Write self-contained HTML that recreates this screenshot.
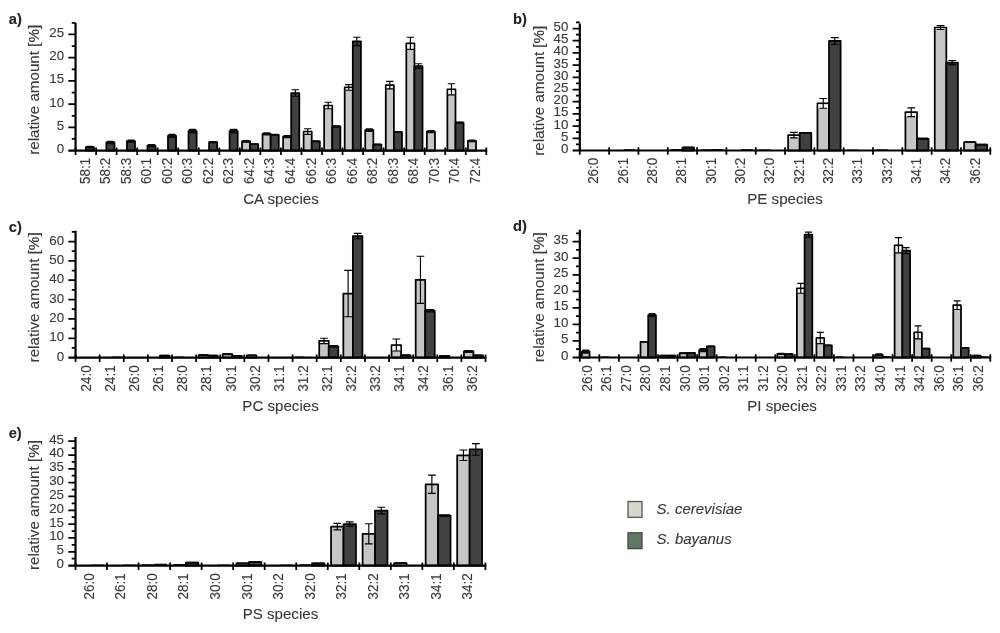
<!DOCTYPE html>
<html lang="en">
<head>
<meta charset="utf-8">
<title>Lipid species figure</title>
<style>
html,body{margin:0;padding:0;background:#fff;}
body{width:1000px;height:633px;overflow:hidden;}
svg{display:block;font-family:"Liberation Sans", sans-serif;filter:blur(0.4px);}
text{stroke:#3a3a3a;stroke-width:0.12px;}
</style>
</head>
<body>
<svg width="1000" height="633" viewBox="0 0 1000 633">
<rect width="1000" height="633" fill="#fff"/>
<g id="chart-a">
<rect x="85.82" y="147.12" width="8.11" height="3.48" fill="#414141" stroke="#000" stroke-width="1.75" stroke-linejoin="round"/>
<rect x="86.12" y="145.69" width="7.51" height="2.86" rx="0.8" fill="#0a0a0a"/>
<rect x="106.36" y="142.47" width="8.11" height="8.13" fill="#414141" stroke="#000" stroke-width="1.75" stroke-linejoin="round"/>
<rect x="106.66" y="140.81" width="7.51" height="3.32" rx="0.8" fill="#0a0a0a"/>
<rect x="126.89" y="141.08" width="8.11" height="9.52" fill="#414141" stroke="#000" stroke-width="1.75" stroke-linejoin="round"/>
<rect x="127.19" y="139.42" width="7.51" height="3.32" rx="0.8" fill="#0a0a0a"/>
<rect x="147.43" y="145.72" width="8.11" height="4.88" fill="#414141" stroke="#000" stroke-width="1.75" stroke-linejoin="round"/>
<rect x="147.73" y="144.06" width="7.51" height="3.32" rx="0.8" fill="#0a0a0a"/>
<rect x="167.97" y="135.97" width="8.11" height="14.63" fill="#414141" stroke="#000" stroke-width="1.75" stroke-linejoin="round"/>
<rect x="168.27" y="133.84" width="7.51" height="4.25" rx="0.8" fill="#0a0a0a"/>
<rect x="188.51" y="131.09" width="8.11" height="19.51" fill="#414141" stroke="#000" stroke-width="1.75" stroke-linejoin="round"/>
<rect x="188.81" y="128.73" width="7.51" height="4.72" rx="0.8" fill="#0a0a0a"/>
<rect x="209.04" y="142.24" width="8.11" height="8.36" fill="#414141" stroke="#000" stroke-width="1.75" stroke-linejoin="round"/>
<rect x="209.34" y="141.04" width="7.51" height="2.39" rx="0.8" fill="#0a0a0a"/>
<rect x="229.58" y="131.09" width="8.11" height="19.51" fill="#414141" stroke="#000" stroke-width="1.75" stroke-linejoin="round"/>
<rect x="229.88" y="128.73" width="7.51" height="4.72" rx="0.8" fill="#0a0a0a"/>
<rect x="242.01" y="141.31" width="8.11" height="9.29" fill="#c6c6c6" stroke="#000" stroke-width="1.75" stroke-linejoin="round"/>
<rect x="242.31" y="139.88" width="7.51" height="2.86" rx="0.8" fill="#0a0a0a"/>
<rect x="250.12" y="144.1" width="8.11" height="6.5" fill="#414141" stroke="#000" stroke-width="1.75" stroke-linejoin="round"/>
<rect x="250.42" y="143.13" width="7.51" height="1.93" rx="0.8" fill="#0a0a0a"/>
<rect x="262.54" y="133.88" width="8.11" height="16.72" fill="#c6c6c6" stroke="#000" stroke-width="1.75" stroke-linejoin="round"/>
<rect x="262.84" y="132.22" width="7.51" height="3.32" rx="0.8" fill="#0a0a0a"/>
<rect x="270.66" y="134.81" width="8.11" height="15.79" fill="#414141" stroke="#000" stroke-width="1.75" stroke-linejoin="round"/>
<rect x="270.96" y="133.84" width="7.51" height="1.93" rx="0.8" fill="#0a0a0a"/>
<rect x="283.08" y="136.66" width="8.11" height="13.94" fill="#c6c6c6" stroke="#000" stroke-width="1.75" stroke-linejoin="round"/>
<rect x="283.38" y="135" width="7.51" height="3.32" rx="0.8" fill="#0a0a0a"/>
<rect x="291.19" y="93" width="8.11" height="57.6" fill="#414141" stroke="#000" stroke-width="1.75" stroke-linejoin="round"/>
<path d="M295.25 89.75V96.25M291.6 89.75H298.9M291.6 96.25H298.9" stroke="#000" stroke-width="1.15" fill="none"/>
<rect x="303.62" y="131.56" width="8.11" height="19.04" fill="#c6c6c6" stroke="#000" stroke-width="1.75" stroke-linejoin="round"/>
<rect x="304.49" y="132.43" width="6.36" height="1.91" fill="#f2f2f2"/>
<path d="M307.68 128.77V134.34M304.02 128.77H311.33M304.02 134.34H311.33" stroke="#000" stroke-width="1.15" fill="none"/>
<rect x="311.73" y="141.31" width="8.11" height="9.29" fill="#414141" stroke="#000" stroke-width="1.75" stroke-linejoin="round"/>
<rect x="312.03" y="140.35" width="7.51" height="1.93" rx="0.8" fill="#0a0a0a"/>
<rect x="324.16" y="105.54" width="8.11" height="45.06" fill="#c6c6c6" stroke="#000" stroke-width="1.75" stroke-linejoin="round"/>
<rect x="325.03" y="106.42" width="6.36" height="2.38" fill="#f2f2f2"/>
<path d="M328.21 102.29V108.79M324.56 102.29H331.86M324.56 108.79H331.86" stroke="#000" stroke-width="1.15" fill="none"/>
<rect x="332.27" y="126.45" width="8.11" height="24.15" fill="#414141" stroke="#000" stroke-width="1.75" stroke-linejoin="round"/>
<rect x="332.57" y="125.25" width="7.51" height="2.39" rx="0.8" fill="#0a0a0a"/>
<rect x="344.69" y="87.43" width="8.11" height="63.17" fill="#c6c6c6" stroke="#000" stroke-width="1.75" stroke-linejoin="round"/>
<rect x="345.57" y="88.3" width="6.36" height="1.91" fill="#f2f2f2"/>
<path d="M348.75 84.64V90.22M345.1 84.64H352.4M345.1 90.22H352.4" stroke="#000" stroke-width="1.15" fill="none"/>
<rect x="352.81" y="41.44" width="8.11" height="109.16" fill="#414141" stroke="#000" stroke-width="1.75" stroke-linejoin="round"/>
<path d="M356.86 37.26V45.62M353.21 37.26H360.51M353.21 45.62H360.51" stroke="#000" stroke-width="1.15" fill="none"/>
<rect x="365.23" y="130.16" width="8.11" height="20.44" fill="#c6c6c6" stroke="#000" stroke-width="1.75" stroke-linejoin="round"/>
<rect x="365.53" y="128.27" width="7.51" height="3.79" rx="0.8" fill="#0a0a0a"/>
<rect x="373.34" y="144.56" width="8.11" height="6.04" fill="#414141" stroke="#000" stroke-width="1.75" stroke-linejoin="round"/>
<rect x="373.64" y="143.6" width="7.51" height="1.93" rx="0.8" fill="#0a0a0a"/>
<rect x="385.77" y="85.11" width="8.11" height="65.49" fill="#c6c6c6" stroke="#000" stroke-width="1.75" stroke-linejoin="round"/>
<rect x="386.64" y="85.98" width="6.36" height="2.84" fill="#f2f2f2"/>
<path d="M389.83 81.39V88.82M386.17 81.39H393.48M386.17 88.82H393.48" stroke="#000" stroke-width="1.15" fill="none"/>
<rect x="393.88" y="132.02" width="8.11" height="18.58" fill="#414141" stroke="#000" stroke-width="1.75" stroke-linejoin="round"/>
<rect x="394.18" y="131.06" width="7.51" height="1.93" rx="0.8" fill="#0a0a0a"/>
<rect x="406.31" y="43.3" width="8.11" height="107.3" fill="#c6c6c6" stroke="#000" stroke-width="1.75" stroke-linejoin="round"/>
<rect x="407.18" y="44.18" width="6.36" height="5.16" fill="#f2f2f2"/>
<path d="M410.36 37.26V49.34M406.71 37.26H414.01M406.71 49.34H414.01" stroke="#000" stroke-width="1.15" fill="none"/>
<rect x="414.42" y="66.06" width="8.11" height="84.54" fill="#414141" stroke="#000" stroke-width="1.75" stroke-linejoin="round"/>
<path d="M418.47 63.74V68.38M414.82 63.74H422.13M414.82 68.38H422.13" stroke="#000" stroke-width="1.15" fill="none"/>
<rect x="426.84" y="131.56" width="8.11" height="19.04" fill="#c6c6c6" stroke="#000" stroke-width="1.75" stroke-linejoin="round"/>
<rect x="427.14" y="129.89" width="7.51" height="3.32" rx="0.8" fill="#0a0a0a"/>
<rect x="447.38" y="89.29" width="8.11" height="61.31" fill="#c6c6c6" stroke="#000" stroke-width="1.75" stroke-linejoin="round"/>
<rect x="448.26" y="90.16" width="6.36" height="4.7" fill="#f2f2f2"/>
<path d="M451.44 83.71V94.86M447.79 83.71H455.09M447.79 94.86H455.09" stroke="#000" stroke-width="1.15" fill="none"/>
<rect x="455.49" y="122.73" width="8.11" height="27.87" fill="#414141" stroke="#000" stroke-width="1.75" stroke-linejoin="round"/>
<rect x="455.79" y="121.53" width="7.51" height="2.39" rx="0.8" fill="#0a0a0a"/>
<rect x="467.92" y="140.85" width="8.11" height="9.75" fill="#c6c6c6" stroke="#000" stroke-width="1.75" stroke-linejoin="round"/>
<rect x="468.22" y="139.42" width="7.51" height="2.86" rx="0.8" fill="#0a0a0a"/>
<path d="M75.55 23V150.6M68.35 150.6H487.18" stroke="#000" stroke-width="2.2" fill="none"/>
<path d="M68.35 127.38H75.55M68.35 104.15H75.55M68.35 80.92H75.55M68.35 57.7H75.55M68.35 34.48H75.55M71.75 138.99H75.55M71.75 115.76H75.55M71.75 92.54H75.55M71.75 69.31H75.55M71.75 46.09H75.55M71.75 22.86H75.55M75.55 147.4V154.9M96.09 147.4V154.9M116.62 147.4V154.9M137.16 147.4V154.9M157.7 147.4V154.9M178.24 147.4V154.9M198.78 147.4V154.9M219.31 147.4V154.9M239.85 147.4V154.9M260.39 147.4V154.9M280.93 147.4V154.9M301.46 147.4V154.9M322 147.4V154.9M342.54 147.4V154.9M363.08 147.4V154.9M383.61 147.4V154.9M404.15 147.4V154.9M424.69 147.4V154.9M445.23 147.4V154.9M465.76 147.4V154.9M486.3 147.4V154.9" stroke="#000" stroke-width="1.75" fill="none"/>
<g font-size="13.3" text-anchor="end" fill="#3a3a3a">
<text x="64.05" y="153">0</text>
<text x="64.05" y="129.78">5</text>
<text x="64.05" y="106.55">10</text>
<text x="64.05" y="83.33">15</text>
<text x="64.05" y="60.1">20</text>
<text x="64.05" y="36.88">25</text>
</g>
<g font-size="13.4" text-anchor="end" fill="#3a3a3a">
<text transform="translate(89.62 157.9) rotate(-90) scale(1 1.16)">58:1</text>
<text transform="translate(110.16 157.9) rotate(-90) scale(1 1.16)">58:2</text>
<text transform="translate(130.69 157.9) rotate(-90) scale(1 1.16)">58:3</text>
<text transform="translate(151.23 157.9) rotate(-90) scale(1 1.16)">60:1</text>
<text transform="translate(171.77 157.9) rotate(-90) scale(1 1.16)">60:2</text>
<text transform="translate(192.31 157.9) rotate(-90) scale(1 1.16)">60:3</text>
<text transform="translate(212.84 157.9) rotate(-90) scale(1 1.16)">62:2</text>
<text transform="translate(233.38 157.9) rotate(-90) scale(1 1.16)">62:3</text>
<text transform="translate(253.92 157.9) rotate(-90) scale(1 1.16)">64:2</text>
<text transform="translate(274.46 157.9) rotate(-90) scale(1 1.16)">64:3</text>
<text transform="translate(294.99 157.9) rotate(-90) scale(1 1.16)">64:4</text>
<text transform="translate(315.53 157.9) rotate(-90) scale(1 1.16)">66:2</text>
<text transform="translate(336.07 157.9) rotate(-90) scale(1 1.16)">66:3</text>
<text transform="translate(356.61 157.9) rotate(-90) scale(1 1.16)">66:4</text>
<text transform="translate(377.14 157.9) rotate(-90) scale(1 1.16)">68:2</text>
<text transform="translate(397.68 157.9) rotate(-90) scale(1 1.16)">68:3</text>
<text transform="translate(418.22 157.9) rotate(-90) scale(1 1.16)">68:4</text>
<text transform="translate(438.76 157.9) rotate(-90) scale(1 1.16)">70:3</text>
<text transform="translate(459.29 157.9) rotate(-90) scale(1 1.16)">70:4</text>
<text transform="translate(479.83 157.9) rotate(-90) scale(1 1.16)">72:4</text>
</g>
<text x="280.93" y="204.3" font-size="15.1" text-anchor="middle" fill="#3a3a3a">CA species</text>
<text transform="translate(39.25 89.8) rotate(-90)" font-size="15.2" text-anchor="middle" fill="#3a3a3a">relative amount [%]</text>
<text x="8.75" y="23.8" font-size="14.7" font-weight="bold" fill="#222" stroke="none">a)</text>
</g>
<g id="chart-b">
<rect x="623.78" y="149.15" width="11.58" height="1.35" fill="#111"/>
<rect x="670.84" y="149.02" width="11.58" height="1.48" fill="#111"/>
<rect x="682.42" y="147.57" width="11.58" height="2.93" fill="#414141" stroke="#000" stroke-width="1.75" stroke-linejoin="round"/>
<rect x="682.72" y="146.58" width="10.98" height="1.98" rx="0.8" fill="#0a0a0a"/>
<rect x="700.16" y="149.27" width="11.58" height="1.23" fill="#111"/>
<rect x="711.75" y="149.02" width="11.58" height="1.48" fill="#111"/>
<rect x="741.07" y="149.15" width="11.58" height="1.35" fill="#111"/>
<rect x="758.81" y="149.39" width="11.58" height="1.11" fill="#111"/>
<rect x="788.13" y="135.13" width="11.58" height="15.37" fill="#c6c6c6" stroke="#000" stroke-width="1.75" stroke-linejoin="round"/>
<rect x="789" y="136" width="9.83" height="1.81" fill="#f2f2f2"/>
<path d="M793.92 132.44V137.81M790.02 132.44H797.82M790.02 137.81H797.82" stroke="#000" stroke-width="1.15" fill="none"/>
<rect x="799.71" y="132.93" width="11.58" height="17.57" fill="#414141" stroke="#000" stroke-width="1.75" stroke-linejoin="round"/>
<rect x="800.01" y="132.07" width="10.98" height="1.73" rx="0.8" fill="#0a0a0a"/>
<rect x="817.45" y="103.41" width="11.58" height="47.09" fill="#c6c6c6" stroke="#000" stroke-width="1.75" stroke-linejoin="round"/>
<rect x="818.33" y="104.28" width="9.83" height="4" fill="#f2f2f2"/>
<path d="M823.24 98.53V108.29M819.34 98.53H827.14M819.34 108.29H827.14" stroke="#000" stroke-width="1.15" fill="none"/>
<rect x="829.03" y="40.94" width="11.58" height="109.56" fill="#414141" stroke="#000" stroke-width="1.75" stroke-linejoin="round"/>
<path d="M834.82 37.65V44.24M830.92 37.65H838.72M830.92 44.24H838.72" stroke="#000" stroke-width="1.15" fill="none"/>
<rect x="846.77" y="149.51" width="11.58" height="0.99" fill="#111"/>
<rect x="876.09" y="149.27" width="11.58" height="1.23" fill="#111"/>
<rect x="905.41" y="112.19" width="11.58" height="38.31" fill="#c6c6c6" stroke="#000" stroke-width="1.75" stroke-linejoin="round"/>
<rect x="906.29" y="113.07" width="9.83" height="3.52" fill="#f2f2f2"/>
<path d="M911.21 107.8V116.58M907.31 107.8H915.11M907.31 116.58H915.11" stroke="#000" stroke-width="1.15" fill="none"/>
<rect x="917" y="138.79" width="11.58" height="11.71" fill="#414141" stroke="#000" stroke-width="1.75" stroke-linejoin="round"/>
<rect x="917.3" y="137.56" width="10.98" height="2.46" rx="0.8" fill="#0a0a0a"/>
<rect x="934.74" y="27.52" width="11.58" height="122.98" fill="#c6c6c6" stroke="#000" stroke-width="1.75" stroke-linejoin="round"/>
<rect x="935.61" y="28.4" width="9.83" height="1.08" fill="#f2f2f2"/>
<path d="M940.53 25.57V29.48M936.63 25.57H944.43M936.63 29.48H944.43" stroke="#000" stroke-width="1.15" fill="none"/>
<rect x="946.32" y="62.66" width="11.58" height="87.84" fill="#414141" stroke="#000" stroke-width="1.75" stroke-linejoin="round"/>
<path d="M952.11 60.46V64.86M948.21 60.46H956.01M948.21 64.86H956.01" stroke="#000" stroke-width="1.15" fill="none"/>
<rect x="964.06" y="142.2" width="11.58" height="8.3" fill="#c6c6c6" stroke="#000" stroke-width="1.75" stroke-linejoin="round"/>
<rect x="964.36" y="141.34" width="10.98" height="1.73" rx="0.8" fill="#0a0a0a"/>
<rect x="975.64" y="144.64" width="11.58" height="5.86" fill="#414141" stroke="#000" stroke-width="1.75" stroke-linejoin="round"/>
<rect x="975.94" y="143.78" width="10.98" height="1.73" rx="0.8" fill="#0a0a0a"/>
<path d="M579.8 23.5V150.5M572.6 150.5H991.17" stroke="#000" stroke-width="2.2" fill="none"/>
<path d="M572.6 138.3H579.8M572.6 126.1H579.8M572.6 113.9H579.8M572.6 101.7H579.8M572.6 89.5H579.8M572.6 77.3H579.8M572.6 65.1H579.8M572.6 52.9H579.8M572.6 40.7H579.8M572.6 28.5H579.8M576 144.4H579.8M576 132.2H579.8M576 120H579.8M576 107.8H579.8M576 95.6H579.8M576 83.4H579.8M576 71.2H579.8M576 59H579.8M576 46.8H579.8M576 34.6H579.8M576 22.4H579.8M579.8 147.3V154.8M609.12 147.3V154.8M638.44 147.3V154.8M667.76 147.3V154.8M697.09 147.3V154.8M726.41 147.3V154.8M755.73 147.3V154.8M785.05 147.3V154.8M814.37 147.3V154.8M843.69 147.3V154.8M873.01 147.3V154.8M902.34 147.3V154.8M931.66 147.3V154.8M960.98 147.3V154.8M990.3 147.3V154.8" stroke="#000" stroke-width="1.75" fill="none"/>
<g font-size="13.3" text-anchor="end" fill="#3a3a3a">
<text x="568.3" y="152.9">0</text>
<text x="568.3" y="140.7">5</text>
<text x="568.3" y="128.5">10</text>
<text x="568.3" y="116.3">15</text>
<text x="568.3" y="104.1">20</text>
<text x="568.3" y="91.9">25</text>
<text x="568.3" y="79.7">30</text>
<text x="568.3" y="67.5">35</text>
<text x="568.3" y="55.3">40</text>
<text x="568.3" y="43.1">45</text>
<text x="568.3" y="30.9">50</text>
</g>
<g font-size="13.4" text-anchor="end" fill="#3a3a3a">
<text transform="translate(598.36 157.8) rotate(-90) scale(1 1.16)">26:0</text>
<text transform="translate(627.68 157.8) rotate(-90) scale(1 1.16)">26:1</text>
<text transform="translate(657 157.8) rotate(-90) scale(1 1.16)">28:0</text>
<text transform="translate(686.32 157.8) rotate(-90) scale(1 1.16)">28:1</text>
<text transform="translate(715.65 157.8) rotate(-90) scale(1 1.16)">30:1</text>
<text transform="translate(744.97 157.8) rotate(-90) scale(1 1.16)">30:2</text>
<text transform="translate(774.29 157.8) rotate(-90) scale(1 1.16)">32:0</text>
<text transform="translate(803.61 157.8) rotate(-90) scale(1 1.16)">32:1</text>
<text transform="translate(832.93 157.8) rotate(-90) scale(1 1.16)">32:2</text>
<text transform="translate(862.25 157.8) rotate(-90) scale(1 1.16)">33:1</text>
<text transform="translate(891.57 157.8) rotate(-90) scale(1 1.16)">33:2</text>
<text transform="translate(920.9 157.8) rotate(-90) scale(1 1.16)">34:1</text>
<text transform="translate(950.22 157.8) rotate(-90) scale(1 1.16)">34:2</text>
<text transform="translate(979.54 157.8) rotate(-90) scale(1 1.16)">36:2</text>
</g>
<text x="785.05" y="204.2" font-size="15.1" text-anchor="middle" fill="#3a3a3a">PE species</text>
<text transform="translate(543.5 90.7) rotate(-90)" font-size="15.2" text-anchor="middle" fill="#3a3a3a">relative amount [%]</text>
<text x="513" y="23.7" font-size="14.7" font-weight="bold" fill="#222" stroke="none">b)</text>
</g>
<g id="chart-c">
<rect x="111.72" y="356.52" width="9.53" height="1.08" fill="#111"/>
<rect x="159.95" y="355.67" width="9.53" height="1.94" fill="#414141" stroke="#000" stroke-width="1.75" stroke-linejoin="round"/>
<rect x="160.25" y="354.78" width="8.93" height="1.77" rx="0.8" fill="#0a0a0a"/>
<rect x="174.54" y="356.52" width="9.53" height="1.08" fill="#111"/>
<rect x="198.66" y="355.08" width="9.53" height="2.52" fill="#c6c6c6" stroke="#000" stroke-width="1.75" stroke-linejoin="round"/>
<rect x="198.96" y="354" width="8.93" height="2.16" rx="0.8" fill="#0a0a0a"/>
<rect x="208.18" y="355.67" width="9.53" height="1.94" fill="#414141" stroke="#000" stroke-width="1.75" stroke-linejoin="round"/>
<rect x="208.48" y="354.78" width="8.93" height="1.77" rx="0.8" fill="#0a0a0a"/>
<rect x="222.77" y="354.12" width="9.53" height="3.48" fill="#c6c6c6" stroke="#000" stroke-width="1.75" stroke-linejoin="round"/>
<rect x="223.07" y="353.04" width="8.93" height="2.16" rx="0.8" fill="#0a0a0a"/>
<rect x="232.3" y="355.86" width="9.53" height="1.74" fill="#414141" stroke="#000" stroke-width="1.75" stroke-linejoin="round"/>
<rect x="232.6" y="354.97" width="8.93" height="1.77" rx="0.8" fill="#0a0a0a"/>
<rect x="246.88" y="355.28" width="9.53" height="2.32" fill="#c6c6c6" stroke="#000" stroke-width="1.75" stroke-linejoin="round"/>
<rect x="247.18" y="354.39" width="8.93" height="1.77" rx="0.8" fill="#0a0a0a"/>
<rect x="295.11" y="356.52" width="9.53" height="1.08" fill="#111"/>
<rect x="319.23" y="340.96" width="9.53" height="16.64" fill="#c6c6c6" stroke="#000" stroke-width="1.75" stroke-linejoin="round"/>
<rect x="320.1" y="341.83" width="7.78" height="1.83" fill="#f2f2f2"/>
<path d="M323.99 338.25V343.67M320.09 338.25H327.89M320.09 343.67H327.89" stroke="#000" stroke-width="1.15" fill="none"/>
<rect x="328.75" y="346.38" width="9.53" height="11.22" fill="#414141" stroke="#000" stroke-width="1.75" stroke-linejoin="round"/>
<rect x="329.05" y="345.1" width="8.93" height="2.55" rx="0.8" fill="#0a0a0a"/>
<rect x="343.34" y="293.55" width="9.53" height="64.05" fill="#c6c6c6" stroke="#000" stroke-width="1.75" stroke-linejoin="round"/>
<path d="M348.11 270.33V316.77M344.21 270.33H352.01M344.21 316.77H352.01" stroke="#000" stroke-width="1.15" fill="none"/>
<rect x="352.87" y="236.08" width="9.53" height="121.52" fill="#414141" stroke="#000" stroke-width="1.75" stroke-linejoin="round"/>
<path d="M357.63 233.37V238.79M353.73 233.37H361.53M353.73 238.79H361.53" stroke="#000" stroke-width="1.15" fill="none"/>
<rect x="391.57" y="345.02" width="9.53" height="12.58" fill="#c6c6c6" stroke="#000" stroke-width="1.75" stroke-linejoin="round"/>
<rect x="392.45" y="345.9" width="7.78" height="5.12" fill="#f2f2f2"/>
<path d="M396.34 339.02V351.02M392.44 339.02H400.24M392.44 351.02H400.24" stroke="#000" stroke-width="1.15" fill="none"/>
<rect x="401.1" y="355.28" width="9.53" height="2.32" fill="#414141" stroke="#000" stroke-width="1.75" stroke-linejoin="round"/>
<rect x="401.4" y="354.2" width="8.93" height="2.16" rx="0.8" fill="#0a0a0a"/>
<rect x="415.69" y="279.81" width="9.53" height="77.79" fill="#c6c6c6" stroke="#000" stroke-width="1.75" stroke-linejoin="round"/>
<path d="M420.45 256.21V303.42M416.55 256.21H424.35M416.55 303.42H424.35" stroke="#000" stroke-width="1.15" fill="none"/>
<rect x="425.21" y="310.77" width="9.53" height="46.83" fill="#414141" stroke="#000" stroke-width="1.75" stroke-linejoin="round"/>
<rect x="425.51" y="309.11" width="8.93" height="3.32" rx="0.8" fill="#0a0a0a"/>
<rect x="439.8" y="355.86" width="9.53" height="1.74" fill="#c6c6c6" stroke="#000" stroke-width="1.75" stroke-linejoin="round"/>
<rect x="440.1" y="354.97" width="8.93" height="1.77" rx="0.8" fill="#0a0a0a"/>
<rect x="463.92" y="351.41" width="9.53" height="6.19" fill="#c6c6c6" stroke="#000" stroke-width="1.75" stroke-linejoin="round"/>
<rect x="464.22" y="349.94" width="8.93" height="2.94" rx="0.8" fill="#0a0a0a"/>
<rect x="473.44" y="355.47" width="9.53" height="2.13" fill="#414141" stroke="#000" stroke-width="1.75" stroke-linejoin="round"/>
<rect x="473.74" y="354.58" width="8.93" height="1.77" rx="0.8" fill="#0a0a0a"/>
<path d="M75.55 230.8V357.6M68.35 357.6H486.38" stroke="#000" stroke-width="2.2" fill="none"/>
<path d="M68.35 338.25H75.55M68.35 318.9H75.55M68.35 299.55H75.55M68.35 280.2H75.55M68.35 260.85H75.55M68.35 241.5H75.55M71.75 347.93H75.55M71.75 328.58H75.55M71.75 309.23H75.55M71.75 289.88H75.55M71.75 270.53H75.55M71.75 251.18H75.55M71.75 231.83H75.55M75.55 354.4V361.9M99.66 354.4V361.9M123.78 354.4V361.9M147.89 354.4V361.9M172.01 354.4V361.9M196.12 354.4V361.9M220.24 354.4V361.9M244.35 354.4V361.9M268.47 354.4V361.9M292.58 354.4V361.9M316.7 354.4V361.9M340.81 354.4V361.9M364.93 354.4V361.9M389.04 354.4V361.9M413.16 354.4V361.9M437.27 354.4V361.9M461.39 354.4V361.9M485.5 354.4V361.9" stroke="#000" stroke-width="1.75" fill="none"/>
<g font-size="13.3" text-anchor="end" fill="#3a3a3a">
<text x="64.05" y="360.7">0</text>
<text x="64.05" y="341.35">10</text>
<text x="64.05" y="322">20</text>
<text x="64.05" y="302.65">30</text>
<text x="64.05" y="283.3">40</text>
<text x="64.05" y="263.95">50</text>
<text x="64.05" y="244.6">60</text>
</g>
<g font-size="13.4" text-anchor="end" fill="#3a3a3a">
<text transform="translate(90.81 365.4) rotate(-90) scale(1 1.16)">24:0</text>
<text transform="translate(114.92 365.4) rotate(-90) scale(1 1.16)">24:1</text>
<text transform="translate(139.04 365.4) rotate(-90) scale(1 1.16)">26:0</text>
<text transform="translate(163.15 365.4) rotate(-90) scale(1 1.16)">26:1</text>
<text transform="translate(187.27 365.4) rotate(-90) scale(1 1.16)">28:0</text>
<text transform="translate(211.38 365.4) rotate(-90) scale(1 1.16)">28:1</text>
<text transform="translate(235.5 365.4) rotate(-90) scale(1 1.16)">30:1</text>
<text transform="translate(259.61 365.4) rotate(-90) scale(1 1.16)">30:2</text>
<text transform="translate(283.72 365.4) rotate(-90) scale(1 1.16)">31:1</text>
<text transform="translate(307.84 365.4) rotate(-90) scale(1 1.16)">31:2</text>
<text transform="translate(331.95 365.4) rotate(-90) scale(1 1.16)">32:1</text>
<text transform="translate(356.07 365.4) rotate(-90) scale(1 1.16)">32:2</text>
<text transform="translate(380.18 365.4) rotate(-90) scale(1 1.16)">33:2</text>
<text transform="translate(404.3 365.4) rotate(-90) scale(1 1.16)">34:1</text>
<text transform="translate(428.41 365.4) rotate(-90) scale(1 1.16)">34:2</text>
<text transform="translate(452.53 365.4) rotate(-90) scale(1 1.16)">36:1</text>
<text transform="translate(476.64 365.4) rotate(-90) scale(1 1.16)">36:2</text>
</g>
<text x="280.52" y="411.1" font-size="15.1" text-anchor="middle" fill="#3a3a3a">PC species</text>
<text transform="translate(39.25 297.4) rotate(-90)" font-size="15.2" text-anchor="middle" fill="#3a3a3a">relative amount [%]</text>
<text x="8.75" y="231.8" font-size="14.7" font-weight="bold" fill="#222" stroke="none">c)</text>
</g>
<g id="chart-d">
<rect x="581.85" y="351.71" width="7.72" height="5.79" fill="#c6c6c6" stroke="#000" stroke-width="1.75" stroke-linejoin="round"/>
<rect x="582.15" y="349.55" width="7.12" height="4.31" rx="0.8" fill="#0a0a0a"/>
<rect x="601.4" y="356.34" width="7.72" height="1.16" fill="#111"/>
<rect x="640.5" y="341.94" width="7.72" height="15.56" fill="#c6c6c6" stroke="#000" stroke-width="1.75" stroke-linejoin="round"/>
<rect x="640.8" y="341.11" width="7.12" height="1.66" rx="0.8" fill="#0a0a0a"/>
<rect x="648.22" y="315.13" width="7.72" height="42.37" fill="#414141" stroke="#000" stroke-width="1.75" stroke-linejoin="round"/>
<rect x="648.52" y="312.98" width="7.12" height="4.31" rx="0.8" fill="#0a0a0a"/>
<rect x="660.04" y="355.51" width="7.72" height="1.99" fill="#c6c6c6" stroke="#000" stroke-width="1.75" stroke-linejoin="round"/>
<rect x="660.34" y="354.68" width="7.12" height="1.66" rx="0.8" fill="#0a0a0a"/>
<rect x="667.76" y="355.51" width="7.72" height="1.99" fill="#414141" stroke="#000" stroke-width="1.75" stroke-linejoin="round"/>
<rect x="668.06" y="354.68" width="7.12" height="1.66" rx="0.8" fill="#0a0a0a"/>
<rect x="679.59" y="353.2" width="7.72" height="4.3" fill="#c6c6c6" stroke="#000" stroke-width="1.75" stroke-linejoin="round"/>
<rect x="679.89" y="352.2" width="7.12" height="1.99" rx="0.8" fill="#0a0a0a"/>
<rect x="687.31" y="352.87" width="7.72" height="4.63" fill="#414141" stroke="#000" stroke-width="1.75" stroke-linejoin="round"/>
<rect x="687.61" y="352.03" width="7.12" height="1.66" rx="0.8" fill="#0a0a0a"/>
<rect x="699.14" y="350.22" width="7.72" height="7.28" fill="#c6c6c6" stroke="#000" stroke-width="1.75" stroke-linejoin="round"/>
<rect x="699.44" y="348.06" width="7.12" height="4.31" rx="0.8" fill="#0a0a0a"/>
<rect x="706.86" y="346.25" width="7.72" height="11.25" fill="#414141" stroke="#000" stroke-width="1.75" stroke-linejoin="round"/>
<rect x="707.16" y="345.41" width="7.12" height="1.66" rx="0.8" fill="#0a0a0a"/>
<rect x="718.69" y="356.34" width="7.72" height="1.16" fill="#111"/>
<rect x="777.33" y="353.86" width="7.72" height="3.64" fill="#c6c6c6" stroke="#000" stroke-width="1.75" stroke-linejoin="round"/>
<rect x="777.63" y="352.7" width="7.12" height="2.32" rx="0.8" fill="#0a0a0a"/>
<rect x="785.05" y="354.19" width="7.72" height="3.31" fill="#414141" stroke="#000" stroke-width="1.75" stroke-linejoin="round"/>
<rect x="785.35" y="353.19" width="7.12" height="1.99" rx="0.8" fill="#0a0a0a"/>
<rect x="796.88" y="288.32" width="7.72" height="69.18" fill="#c6c6c6" stroke="#000" stroke-width="1.75" stroke-linejoin="round"/>
<rect x="797.75" y="289.2" width="5.97" height="4.09" fill="#f2f2f2"/>
<path d="M800.74 283.36V293.29M797.26 283.36H804.21M797.26 293.29H804.21" stroke="#000" stroke-width="1.15" fill="none"/>
<rect x="804.6" y="234.7" width="7.72" height="122.8" fill="#414141" stroke="#000" stroke-width="1.75" stroke-linejoin="round"/>
<path d="M808.46 232.05V237.35M804.98 232.05H811.93M804.98 237.35H811.93" stroke="#000" stroke-width="1.15" fill="none"/>
<rect x="816.42" y="337.97" width="7.72" height="19.53" fill="#c6c6c6" stroke="#000" stroke-width="1.75" stroke-linejoin="round"/>
<rect x="817.3" y="338.85" width="5.97" height="4.75" fill="#f2f2f2"/>
<path d="M820.28 332.34V343.6M816.81 332.34H823.76M816.81 343.6H823.76" stroke="#000" stroke-width="1.15" fill="none"/>
<rect x="824.15" y="345.25" width="7.72" height="12.25" fill="#414141" stroke="#000" stroke-width="1.75" stroke-linejoin="round"/>
<rect x="824.45" y="344.42" width="7.12" height="1.66" rx="0.8" fill="#0a0a0a"/>
<rect x="835.97" y="356.34" width="7.72" height="1.16" fill="#111"/>
<rect x="875.07" y="354.85" width="7.72" height="2.65" fill="#c6c6c6" stroke="#000" stroke-width="1.75" stroke-linejoin="round"/>
<rect x="875.37" y="353.36" width="7.12" height="2.99" rx="0.8" fill="#0a0a0a"/>
<rect x="882.79" y="356.01" width="7.72" height="1.49" fill="#111"/>
<rect x="894.61" y="245.29" width="7.72" height="112.21" fill="#c6c6c6" stroke="#000" stroke-width="1.75" stroke-linejoin="round"/>
<rect x="895.49" y="246.17" width="5.97" height="6.74" fill="#f2f2f2"/>
<path d="M898.48 237.68V252.9M895 237.68H901.95M895 252.9H901.95" stroke="#000" stroke-width="1.15" fill="none"/>
<rect x="902.34" y="250.59" width="7.72" height="106.91" fill="#414141" stroke="#000" stroke-width="1.75" stroke-linejoin="round"/>
<path d="M906.2 247.61V253.57M902.72 247.61H909.67M902.72 253.57H909.67" stroke="#000" stroke-width="1.15" fill="none"/>
<rect x="914.16" y="332.34" width="7.72" height="25.16" fill="#c6c6c6" stroke="#000" stroke-width="1.75" stroke-linejoin="round"/>
<rect x="915.04" y="333.22" width="5.97" height="5.58" fill="#f2f2f2"/>
<path d="M918.02 325.89V338.8M914.55 325.89H921.5M914.55 338.8H921.5" stroke="#000" stroke-width="1.15" fill="none"/>
<rect x="921.88" y="348.56" width="7.72" height="8.94" fill="#414141" stroke="#000" stroke-width="1.75" stroke-linejoin="round"/>
<rect x="922.18" y="347.73" width="7.12" height="1.66" rx="0.8" fill="#0a0a0a"/>
<rect x="953.26" y="305.2" width="7.72" height="52.3" fill="#c6c6c6" stroke="#000" stroke-width="1.75" stroke-linejoin="round"/>
<rect x="954.13" y="306.08" width="5.97" height="3.43" fill="#f2f2f2"/>
<path d="M957.12 300.9V309.5M953.64 300.9H960.59M953.64 309.5H960.59" stroke="#000" stroke-width="1.15" fill="none"/>
<rect x="960.98" y="347.9" width="7.72" height="9.6" fill="#414141" stroke="#000" stroke-width="1.75" stroke-linejoin="round"/>
<rect x="961.28" y="347.07" width="7.12" height="1.66" rx="0.8" fill="#0a0a0a"/>
<rect x="972.8" y="355.51" width="7.72" height="1.99" fill="#c6c6c6" stroke="#000" stroke-width="1.75" stroke-linejoin="round"/>
<rect x="973.1" y="354.68" width="7.12" height="1.66" rx="0.8" fill="#0a0a0a"/>
<rect x="980.53" y="356.34" width="7.72" height="1.16" fill="#111"/>
<path d="M579.8 229.8V357.5M572.6 357.5H991.17" stroke="#000" stroke-width="2.2" fill="none"/>
<path d="M572.6 340.95H579.8M572.6 324.4H579.8M572.6 307.85H579.8M572.6 291.3H579.8M572.6 274.75H579.8M572.6 258.2H579.8M572.6 241.65H579.8M576 349.23H579.8M576 332.68H579.8M576 316.12H579.8M576 299.57H579.8M576 283.02H579.8M576 266.48H579.8M576 249.93H579.8M576 233.38H579.8M579.8 354.3V361.8M599.35 354.3V361.8M618.9 354.3V361.8M638.44 354.3V361.8M657.99 354.3V361.8M677.54 354.3V361.8M697.09 354.3V361.8M716.63 354.3V361.8M736.18 354.3V361.8M755.73 354.3V361.8M775.28 354.3V361.8M794.82 354.3V361.8M814.37 354.3V361.8M833.92 354.3V361.8M853.47 354.3V361.8M873.01 354.3V361.8M892.56 354.3V361.8M912.11 354.3V361.8M931.66 354.3V361.8M951.2 354.3V361.8M970.75 354.3V361.8M990.3 354.3V361.8" stroke="#000" stroke-width="1.75" fill="none"/>
<g font-size="13.3" text-anchor="end" fill="#3a3a3a">
<text x="568.3" y="359.9">0</text>
<text x="568.3" y="343.35">5</text>
<text x="568.3" y="326.8">10</text>
<text x="568.3" y="310.25">15</text>
<text x="568.3" y="293.7">20</text>
<text x="568.3" y="277.15">25</text>
<text x="568.3" y="260.6">30</text>
<text x="568.3" y="244.05">35</text>
</g>
<g font-size="13.4" text-anchor="end" fill="#3a3a3a">
<text transform="translate(591.77 365.4) rotate(-90) scale(1 1.16)">26:0</text>
<text transform="translate(611.32 365.4) rotate(-90) scale(1 1.16)">26:1</text>
<text transform="translate(630.87 365.4) rotate(-90) scale(1 1.16)">27:0</text>
<text transform="translate(650.42 365.4) rotate(-90) scale(1 1.16)">28:0</text>
<text transform="translate(669.96 365.4) rotate(-90) scale(1 1.16)">28:1</text>
<text transform="translate(689.51 365.4) rotate(-90) scale(1 1.16)">30:0</text>
<text transform="translate(709.06 365.4) rotate(-90) scale(1 1.16)">30:1</text>
<text transform="translate(728.61 365.4) rotate(-90) scale(1 1.16)">30:2</text>
<text transform="translate(748.15 365.4) rotate(-90) scale(1 1.16)">31:1</text>
<text transform="translate(767.7 365.4) rotate(-90) scale(1 1.16)">31:2</text>
<text transform="translate(787.25 365.4) rotate(-90) scale(1 1.16)">32:0</text>
<text transform="translate(806.8 365.4) rotate(-90) scale(1 1.16)">32:1</text>
<text transform="translate(826.35 365.4) rotate(-90) scale(1 1.16)">32:2</text>
<text transform="translate(845.89 365.4) rotate(-90) scale(1 1.16)">33:1</text>
<text transform="translate(865.44 365.4) rotate(-90) scale(1 1.16)">33:2</text>
<text transform="translate(884.99 365.4) rotate(-90) scale(1 1.16)">34:0</text>
<text transform="translate(904.54 365.4) rotate(-90) scale(1 1.16)">34:1</text>
<text transform="translate(924.08 365.4) rotate(-90) scale(1 1.16)">34:2</text>
<text transform="translate(943.63 365.4) rotate(-90) scale(1 1.16)">36:0</text>
<text transform="translate(963.18 365.4) rotate(-90) scale(1 1.16)">36:1</text>
<text transform="translate(982.73 365.4) rotate(-90) scale(1 1.16)">36:2</text>
</g>
<text x="782.05" y="410.8" font-size="15.1" text-anchor="middle" fill="#3a3a3a">PI species</text>
<text transform="translate(543.5 297.35) rotate(-90)" font-size="15.2" text-anchor="middle" fill="#3a3a3a">relative amount [%]</text>
<text x="513" y="230.8" font-size="14.7" font-weight="bold" fill="#222" stroke="none">d)</text>
</g>
<g id="chart-e">
<rect x="91.27" y="564.55" width="12.45" height="1.05" fill="#111"/>
<rect x="122.8" y="564.55" width="12.45" height="1.05" fill="#111"/>
<rect x="141.87" y="564.27" width="12.45" height="1.33" fill="#111"/>
<rect x="154.33" y="563.72" width="12.45" height="1.88" fill="#111"/>
<rect x="173.4" y="563.99" width="12.45" height="1.61" fill="#111"/>
<rect x="185.86" y="562.56" width="12.45" height="3.04" fill="#414141" stroke="#000" stroke-width="1.75" stroke-linejoin="round"/>
<rect x="186.16" y="561.64" width="11.85" height="1.83" rx="0.8" fill="#0a0a0a"/>
<rect x="217.39" y="564.55" width="12.45" height="1.05" fill="#111"/>
<rect x="236.46" y="563.39" width="12.45" height="2.21" fill="#c6c6c6" stroke="#000" stroke-width="1.75" stroke-linejoin="round"/>
<rect x="236.76" y="562.61" width="11.85" height="1.55" rx="0.8" fill="#0a0a0a"/>
<rect x="248.92" y="562.01" width="12.45" height="3.59" fill="#414141" stroke="#000" stroke-width="1.75" stroke-linejoin="round"/>
<rect x="249.22" y="561.09" width="11.85" height="1.83" rx="0.8" fill="#0a0a0a"/>
<rect x="280.45" y="564.55" width="12.45" height="1.05" fill="#111"/>
<rect x="299.53" y="564.27" width="12.45" height="1.33" fill="#111"/>
<rect x="311.98" y="563.39" width="12.45" height="2.21" fill="#414141" stroke="#000" stroke-width="1.75" stroke-linejoin="round"/>
<rect x="312.28" y="562.47" width="11.85" height="1.83" rx="0.8" fill="#0a0a0a"/>
<rect x="331.06" y="526.61" width="12.45" height="38.99" fill="#c6c6c6" stroke="#000" stroke-width="1.75" stroke-linejoin="round"/>
<path d="M337.28 523.3V529.93M333.38 523.3H341.18M333.38 529.93H341.18" stroke="#000" stroke-width="1.15" fill="none"/>
<rect x="343.51" y="524.12" width="12.45" height="41.48" fill="#414141" stroke="#000" stroke-width="1.75" stroke-linejoin="round"/>
<path d="M349.74 521.91V526.34M345.84 521.91H353.64M345.84 526.34H353.64" stroke="#000" stroke-width="1.15" fill="none"/>
<rect x="362.59" y="533.8" width="12.45" height="31.8" fill="#c6c6c6" stroke="#000" stroke-width="1.75" stroke-linejoin="round"/>
<path d="M368.81 523.71V543.89M364.91 523.71H372.71M364.91 543.89H372.71" stroke="#000" stroke-width="1.15" fill="none"/>
<rect x="375.04" y="510.58" width="12.45" height="55.02" fill="#414141" stroke="#000" stroke-width="1.75" stroke-linejoin="round"/>
<path d="M381.27 507.26V513.89M377.37 507.26H385.17M377.37 513.89H385.17" stroke="#000" stroke-width="1.15" fill="none"/>
<rect x="394.12" y="563.11" width="12.45" height="2.49" fill="#c6c6c6" stroke="#000" stroke-width="1.75" stroke-linejoin="round"/>
<rect x="394.42" y="562.2" width="11.85" height="1.83" rx="0.8" fill="#0a0a0a"/>
<rect x="425.65" y="484.31" width="12.45" height="81.29" fill="#c6c6c6" stroke="#000" stroke-width="1.75" stroke-linejoin="round"/>
<path d="M431.88 475.18V493.43M427.98 475.18H435.78M427.98 493.43H435.78" stroke="#000" stroke-width="1.15" fill="none"/>
<rect x="438.1" y="515.55" width="12.45" height="50.05" fill="#414141" stroke="#000" stroke-width="1.75" stroke-linejoin="round"/>
<rect x="438.4" y="514.22" width="11.85" height="2.66" rx="0.8" fill="#0a0a0a"/>
<rect x="457.18" y="455.28" width="12.45" height="110.32" fill="#c6c6c6" stroke="#000" stroke-width="1.75" stroke-linejoin="round"/>
<path d="M463.41 450.02V460.53M459.51 450.02H467.31M459.51 460.53H467.31" stroke="#000" stroke-width="1.15" fill="none"/>
<rect x="469.63" y="449.47" width="12.45" height="116.13" fill="#414141" stroke="#000" stroke-width="1.75" stroke-linejoin="round"/>
<path d="M475.86 443.66V455.28M471.96 443.66H479.76M471.96 455.28H479.76" stroke="#000" stroke-width="1.15" fill="none"/>
<path d="M75.5 437V565.6M68.3 565.6H486.27" stroke="#000" stroke-width="2.2" fill="none"/>
<path d="M68.3 551.77H75.5M68.3 537.95H75.5M68.3 524.12H75.5M68.3 510.3H75.5M68.3 496.48H75.5M68.3 482.65H75.5M68.3 468.83H75.5M68.3 455H75.5M68.3 441.18H75.5M71.7 558.69H75.5M71.7 544.86H75.5M71.7 531.04H75.5M71.7 517.21H75.5M71.7 503.39H75.5M71.7 489.56H75.5M71.7 475.74H75.5M71.7 461.91H75.5M71.7 448.09H75.5M75.5 562.4V569.9M107.03 562.4V569.9M138.56 562.4V569.9M170.09 562.4V569.9M201.62 562.4V569.9M233.15 562.4V569.9M264.68 562.4V569.9M296.22 562.4V569.9M327.75 562.4V569.9M359.28 562.4V569.9M390.81 562.4V569.9M422.34 562.4V569.9M453.87 562.4V569.9M485.4 562.4V569.9" stroke="#000" stroke-width="1.75" fill="none"/>
<g font-size="13.3" text-anchor="end" fill="#3a3a3a">
<text x="64" y="568">0</text>
<text x="64" y="554.17">5</text>
<text x="64" y="540.35">10</text>
<text x="64" y="526.52">15</text>
<text x="64" y="512.7">20</text>
<text x="64" y="498.88">25</text>
<text x="64" y="485.05">30</text>
<text x="64" y="471.23">35</text>
<text x="64" y="457.4">40</text>
<text x="64" y="443.57">45</text>
</g>
<g font-size="13.4" text-anchor="end" fill="#3a3a3a">
<text transform="translate(93.87 573.4) rotate(-90) scale(1 1.16)">26:0</text>
<text transform="translate(125.4 573.4) rotate(-90) scale(1 1.16)">26:1</text>
<text transform="translate(156.93 573.4) rotate(-90) scale(1 1.16)">28:0</text>
<text transform="translate(188.46 573.4) rotate(-90) scale(1 1.16)">28:1</text>
<text transform="translate(219.99 573.4) rotate(-90) scale(1 1.16)">30:0</text>
<text transform="translate(251.52 573.4) rotate(-90) scale(1 1.16)">30:1</text>
<text transform="translate(283.05 573.4) rotate(-90) scale(1 1.16)">30:2</text>
<text transform="translate(314.58 573.4) rotate(-90) scale(1 1.16)">32:0</text>
<text transform="translate(346.11 573.4) rotate(-90) scale(1 1.16)">32:1</text>
<text transform="translate(377.64 573.4) rotate(-90) scale(1 1.16)">32:2</text>
<text transform="translate(409.17 573.4) rotate(-90) scale(1 1.16)">33:1</text>
<text transform="translate(440.7 573.4) rotate(-90) scale(1 1.16)">34:1</text>
<text transform="translate(472.23 573.4) rotate(-90) scale(1 1.16)">34:2</text>
</g>
<text x="280.45" y="619.3" font-size="15.1" text-anchor="middle" fill="#3a3a3a">PS species</text>
<text transform="translate(39.2 505.1) rotate(-90)" font-size="15.2" text-anchor="middle" fill="#3a3a3a">relative amount [%]</text>
<text x="8.7" y="438.4" font-size="14.7" font-weight="bold" fill="#222" stroke="none">e)</text>
</g>
<g id="legend">
<rect x="628" y="501.5" width="14" height="15.8" fill="#d5d8cd" stroke="#555" stroke-width="1.3"/>
<rect x="628" y="532.8" width="14" height="15.8" fill="#5f7866" stroke="#444" stroke-width="1.3"/>
<text x="656.6" y="514.4" font-size="15" font-style="italic" fill="#3a3a3a">S. cerevisiae</text>
<text x="656.6" y="544.2" font-size="15" font-style="italic" fill="#3a3a3a">S. bayanus</text>
</g>
</svg>
</body>
</html>
